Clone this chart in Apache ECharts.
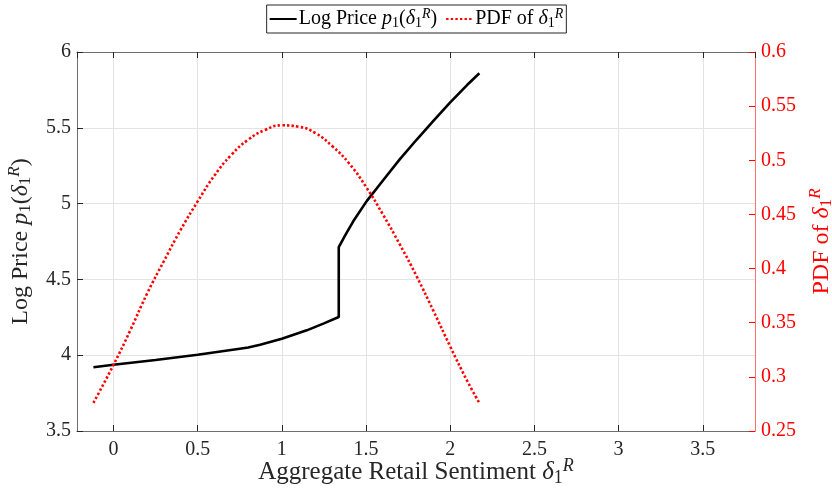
<!DOCTYPE html>
<html><head><meta charset="utf-8">
<script src="https://cdn.jsdelivr.net/npm/echarts@6/dist/echarts.min.js"></script>
<style>html,body{margin:0;padding:0;background:#fff}#c{width:832px;height:498px}</style>
</head><body><div id="c"></div>
<script>
// ---- data ----
const priceX = [-0.119, 0, 0.25, 0.5, 0.75, 0.8, 0.871, 1.0, 1.148, 1.25, 1.338, 1.338, 1.376, 1.425, 1.505, 1.604, 1.70, 1.80, 1.90, 2.0, 2.1, 2.173];
const priceY = [3.921, 3.937, 3.968, 4.003, 4.043, 4.051, 4.069, 4.109, 4.164, 4.21, 4.252, 4.713, 4.791, 4.885, 5.018, 5.157, 5.292, 5.421, 5.546, 5.668, 5.782, 5.86];
const pdfX = [-0.119, 0, 0.1, 0.2, 0.3, 0.4, 0.5, 0.6, 0.7, 0.8, 0.9, 1.0, 1.1, 1.2, 1.3, 1.4, 1.5, 1.6, 1.7, 1.8, 1.9, 2.0, 2.1, 2.173];
const pdfY = [0.276, 0.311, 0.343, 0.377, 0.407, 0.436, 0.462, 0.486, 0.505, 0.519, 0.528, 0.5323, 0.531, 0.525, 0.513, 0.497, 0.4755, 0.450, 0.4225, 0.393, 0.361, 0.328, 0.2965, 0.276];
const xRange = [-0.2165, 3.81];
const leftTicks = [3.5, 4, 4.5, 5, 5.5, 6];
const rightTicks = [0.25, 0.3, 0.35, 0.4, 0.45, 0.5, 0.55, 0.6];

const F = 'Liberation Serif';
const fmt = v => { const r = Math.round(v * 1000) / 1000; return (Math.abs(r) < 1e-9 ? 0 : r).toString(); };
function richSet(size, color) {
  const sub = Math.round(size * 0.7);
  return {
    n: { fontFamily: F, fontSize: size, color: color },
    i: { fontFamily: F, fontSize: size, fontStyle: 'italic', color: color },
    s: { fontFamily: F, fontSize: sub, color: color, lineHeight: sub, padding: [Math.round(size * 0.42), 0, 0, 0] },
    u: { fontFamily: F, fontSize: sub, fontStyle: 'italic', color: color, lineHeight: sub, padding: [0, 0, Math.round(size * 0.5), 0] }
  };
}

const chart = echarts.init(document.getElementById('c'), null, { renderer: 'canvas' });
const axisGrey = '#6e6e6e';
chart.setOption({
  animation: false,
  backgroundColor: '#fff',
  grid: { left: 77, right: 77, top: 52, bottom: 67, containLabel: false, outerBoundsMode: 'none' },
  legend: {
    top: 5, left: 'center',
    backgroundColor: '#fff', borderColor: '#262626', borderWidth: 1,
    padding: [2, 3, 2, 2], itemGap: 8, itemWidth: 27, itemHeight: 14,
    data: ['price', 'pdf'],
    itemStyle: { opacity: 0, borderWidth: 0 },
    formatter: function (name) {
      return name === 'price'
        ? '{n|Log Price }{i|p}{s|1}{n|(}{i|δ}{s|1}{u|R}{n|)}'
        : '{n|PDF of }{i|δ}{s|1}{u|R}';
    },
    textStyle: { fontFamily: F, fontSize: 20, color: '#000', padding: [0, 0, 0, -3], rich: richSet(20, '#000') }
  },
  xAxis: [{
    type: 'value', min: xRange[0], max: xRange[1], splitNumber: 8,
    position: 'bottom',
    name: '{n|Aggregate Retail Sentiment }{i|δ}{s|1}{u|R}',
    nameLocation: 'middle', nameGap: 29, nameMoveOverlap: false,
    nameTextStyle: { rich: richSet(25, '#262626') },
    axisLine: { show: true, onZero: false, lineStyle: { color: axisGrey, width: 1 } },
    axisTick: { show: true, inside: true, length: 6, lineStyle: { color: '#262626' } },
    axisLabel: { showMinLabel: false, showMaxLabel: false, fontFamily: F, fontSize: 20, color: '#262626', margin: 9, formatter: fmt },
    splitLine: { show: true, lineStyle: { color: '#e3e3e3', width: 1 } }
  }, {
    type: 'value', min: xRange[0], max: xRange[1], splitNumber: 8,
    position: 'top',
    axisLine: { show: true, onZero: false, lineStyle: { color: axisGrey, width: 1 } },
    axisTick: { show: true, inside: true, length: 6, lineStyle: { color: '#262626' } },
    axisLabel: { show: false },
    splitLine: { show: false }
  }],
  yAxis: [{
    type: 'value', min: leftTicks[0], max: leftTicks[leftTicks.length - 1], interval: leftTicks[1] - leftTicks[0],
    position: 'left',
    name: '{n|Log Price }{i|p}{s|1}{n|(}{i|δ}{s|1}{u|R}{n|)}',
    nameLocation: 'middle', nameGap: 38, nameRotate: 90,
    nameTextStyle: { rich: richSet(24, '#262626') },
    axisLine: { show: true, onZero: false, lineStyle: { color: axisGrey, width: 1 } },
    axisTick: { show: true, inside: true, length: 6, lineStyle: { color: '#262626' } },
    axisLabel: { fontFamily: F, fontSize: 20, color: '#262626', margin: 6, formatter: fmt },
    splitLine: { show: true, lineStyle: { color: '#e3e3e3', width: 1 } }
  }, {
    type: 'value', min: rightTicks[0], max: rightTicks[rightTicks.length - 1], interval: 0.05,
    position: 'right',
    name: '{n|PDF of }{i|δ}{s|1}{u|R}',
    nameLocation: 'middle', nameGap: 55, nameRotate: 90,
    nameTextStyle: { rich: richSet(24, '#ff0000') },
    axisLine: { show: true, onZero: false, lineStyle: { color: '#ff7070', width: 1 } },
    axisTick: { show: true, inside: true, length: 6, lineStyle: { color: '#ff0000' } },
    axisLabel: { fontFamily: F, fontSize: 20, color: '#ff0000', margin: 6, formatter: fmt },
    splitLine: { show: false }
  }],
  series: [{
    name: 'price', type: 'line', xAxisIndex: 0, yAxisIndex: 0,
    data: priceX.map((x, k) => [x, priceY[k]]),
    showSymbol: false, symbol: 'none', smooth: false,
    lineStyle: { color: '#000', width: 2.6 }, itemStyle: { color: '#000' },
    z: 3
  }, {
    name: 'pdf', type: 'line', xAxisIndex: 0, yAxisIndex: 1,
    data: pdfX.map((x, k) => [x, pdfY[k]]),
    showSymbol: false, symbol: 'none', smooth: true,
    lineStyle: { color: '#ff0000', width: 2.6, type: [2.4, 2.2] }, itemStyle: { color: '#ff0000' },
    z: 4
  }]
});
</script>
</body></html>
